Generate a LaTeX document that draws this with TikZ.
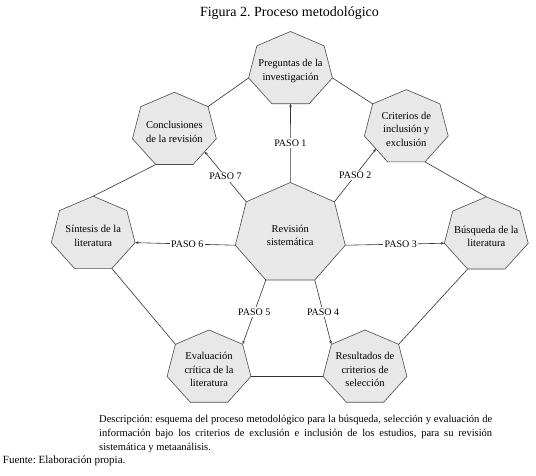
\documentclass[tikz,border=0pt]{standalone}
\usepackage{fontspec}
\setmainfont{Liberation Serif}
\frenchspacing
\usetikzlibrary{arrows.meta, calc}
\tikzset{
  heptagono/.style={draw=black!70, fill=black!9, line width=0.6pt},
  rotulo/.style={align=center, inner sep=0pt, yshift=-1.5pt,
    font=\fontsize{10.5}{13.5}\selectfont},
  paso/.style={fill=white, inner sep=1.5pt, font=\fontsize{10}{12}\selectfont},
  enlace/.style={draw=black!80, line width=0.6pt},
  flecha/.style={-{Stealth[length=3.5pt, width=2.6pt]}, draw=black!80, line width=0.6pt}
}
% heptagono estirado: nombre, x, y, radio x, radio y, texto
\newcommand{\hepta}[6]{%
  \filldraw[heptagono] (#2,#3) +(90:#4 and #5)
    \foreach \k in {1,...,6}{ -- +(90+\k*360/7:#4 and #5)} -- cycle;
  \foreach \k in {1,...,7}
    \path (#2,#3) ++(90+\k*360/7-360/7:#4 and #5) coordinate (#1-\k);
  \node[rotulo] (#1) at (#2,#3) {#6};
}

\begin{document}
\begin{tikzpicture}[x=1pt, y=1pt]
  \fill[white] (0,0) rectangle (536,475);
  \node[font=\fontsize{14}{16}\selectfont] (titulo) at (289.5,462)
    {Figura 2. Proceso metodológico};

  \hepta{preg}{290.5}{405.5}{43}{38}{Preguntas de la\\investigación}
  \hepta{conc}{174.4}{344.7}{43}{38}{Conclusiones\\de la revisión}
  \hepta{crit}{406.3}{347.4}{43}{38}{Criterios de\\inclusión y\\exclusión}
  \hepta{rev}{290.3}{241.2}{56.4}{51.3}{Revisión\\sistemática}
  \hepta{sint}{93.2}{240.8}{43}{38}{Síntesis de la\\literatura}
  \hepta{busq}{486.3}{240.2}{43}{38}{Búsqueda de la\\literatura}
  \hepta{eval}{209}{107}{43}{38}{Evaluación\\crítica de la\\literatura}
  \hepta{res}{365}{107}{43}{38}{Resultados de\\criterios de\\selección}

  % ciclo exterior
  \draw[enlace] (preg-3) -- (conc-7);
  \draw[enlace] (preg-6) -- (crit-2);
  \draw[enlace] (conc-4) -- (sint-1);
  \draw[enlace] (crit-5) -- (busq-1);
  \draw[enlace] (sint-5) -- (eval-2);
  \draw[enlace] (busq-4) -- (res-7);
  \draw[enlace] (eval-6) -- (res-3);

  % pasos desde la revision
  \draw[flecha] (rev-1) -- node[paso] (p1) {PASO 1} ($(preg-4)!0.5!(preg-5)$);
  \draw[flecha] (rev-7) -- node[paso] (p2) {PASO 2} ($(crit-3)!0.5!(crit-4)$);
  \draw[flecha] (rev-6) -- node[paso, pos=0.56] (p3) {PASO 3} (busq-3);
  \draw[flecha] (rev-5) -- node[paso] (p4) {PASO 4} (res-2);
  \draw[flecha] (rev-4) -- node[paso] (p5) {PASO 5} (eval-7);
  \draw[flecha] (rev-3) -- node[paso, pos=0.48] (p6) {PASO 6} (sint-6);
  \draw[flecha] (rev-2) -- node[paso] (p7) {PASO 7} ($(conc-5)!0.5!(conc-6)$);

  \node[anchor=north west, inner sep=0pt, text width=393pt, align=justify,
    font=\fontsize{10.5}{14.2}\selectfont] (desc) at (99,60)
    {Descripción: esquema del proceso metodológico para la búsqueda, selección y evaluación de\linebreak
     información bajo los criterios de exclusión e inclusión de los estudios, para su revisión\linebreak
     sistemática y metaanálisis.};
  \node[anchor=base west, inner sep=0pt, font=\fontsize{11}{13}\selectfont] (fuente) at (2.7,12)
    {Fuente: Elaboración propia.};
\end{tikzpicture}
\end{document}
